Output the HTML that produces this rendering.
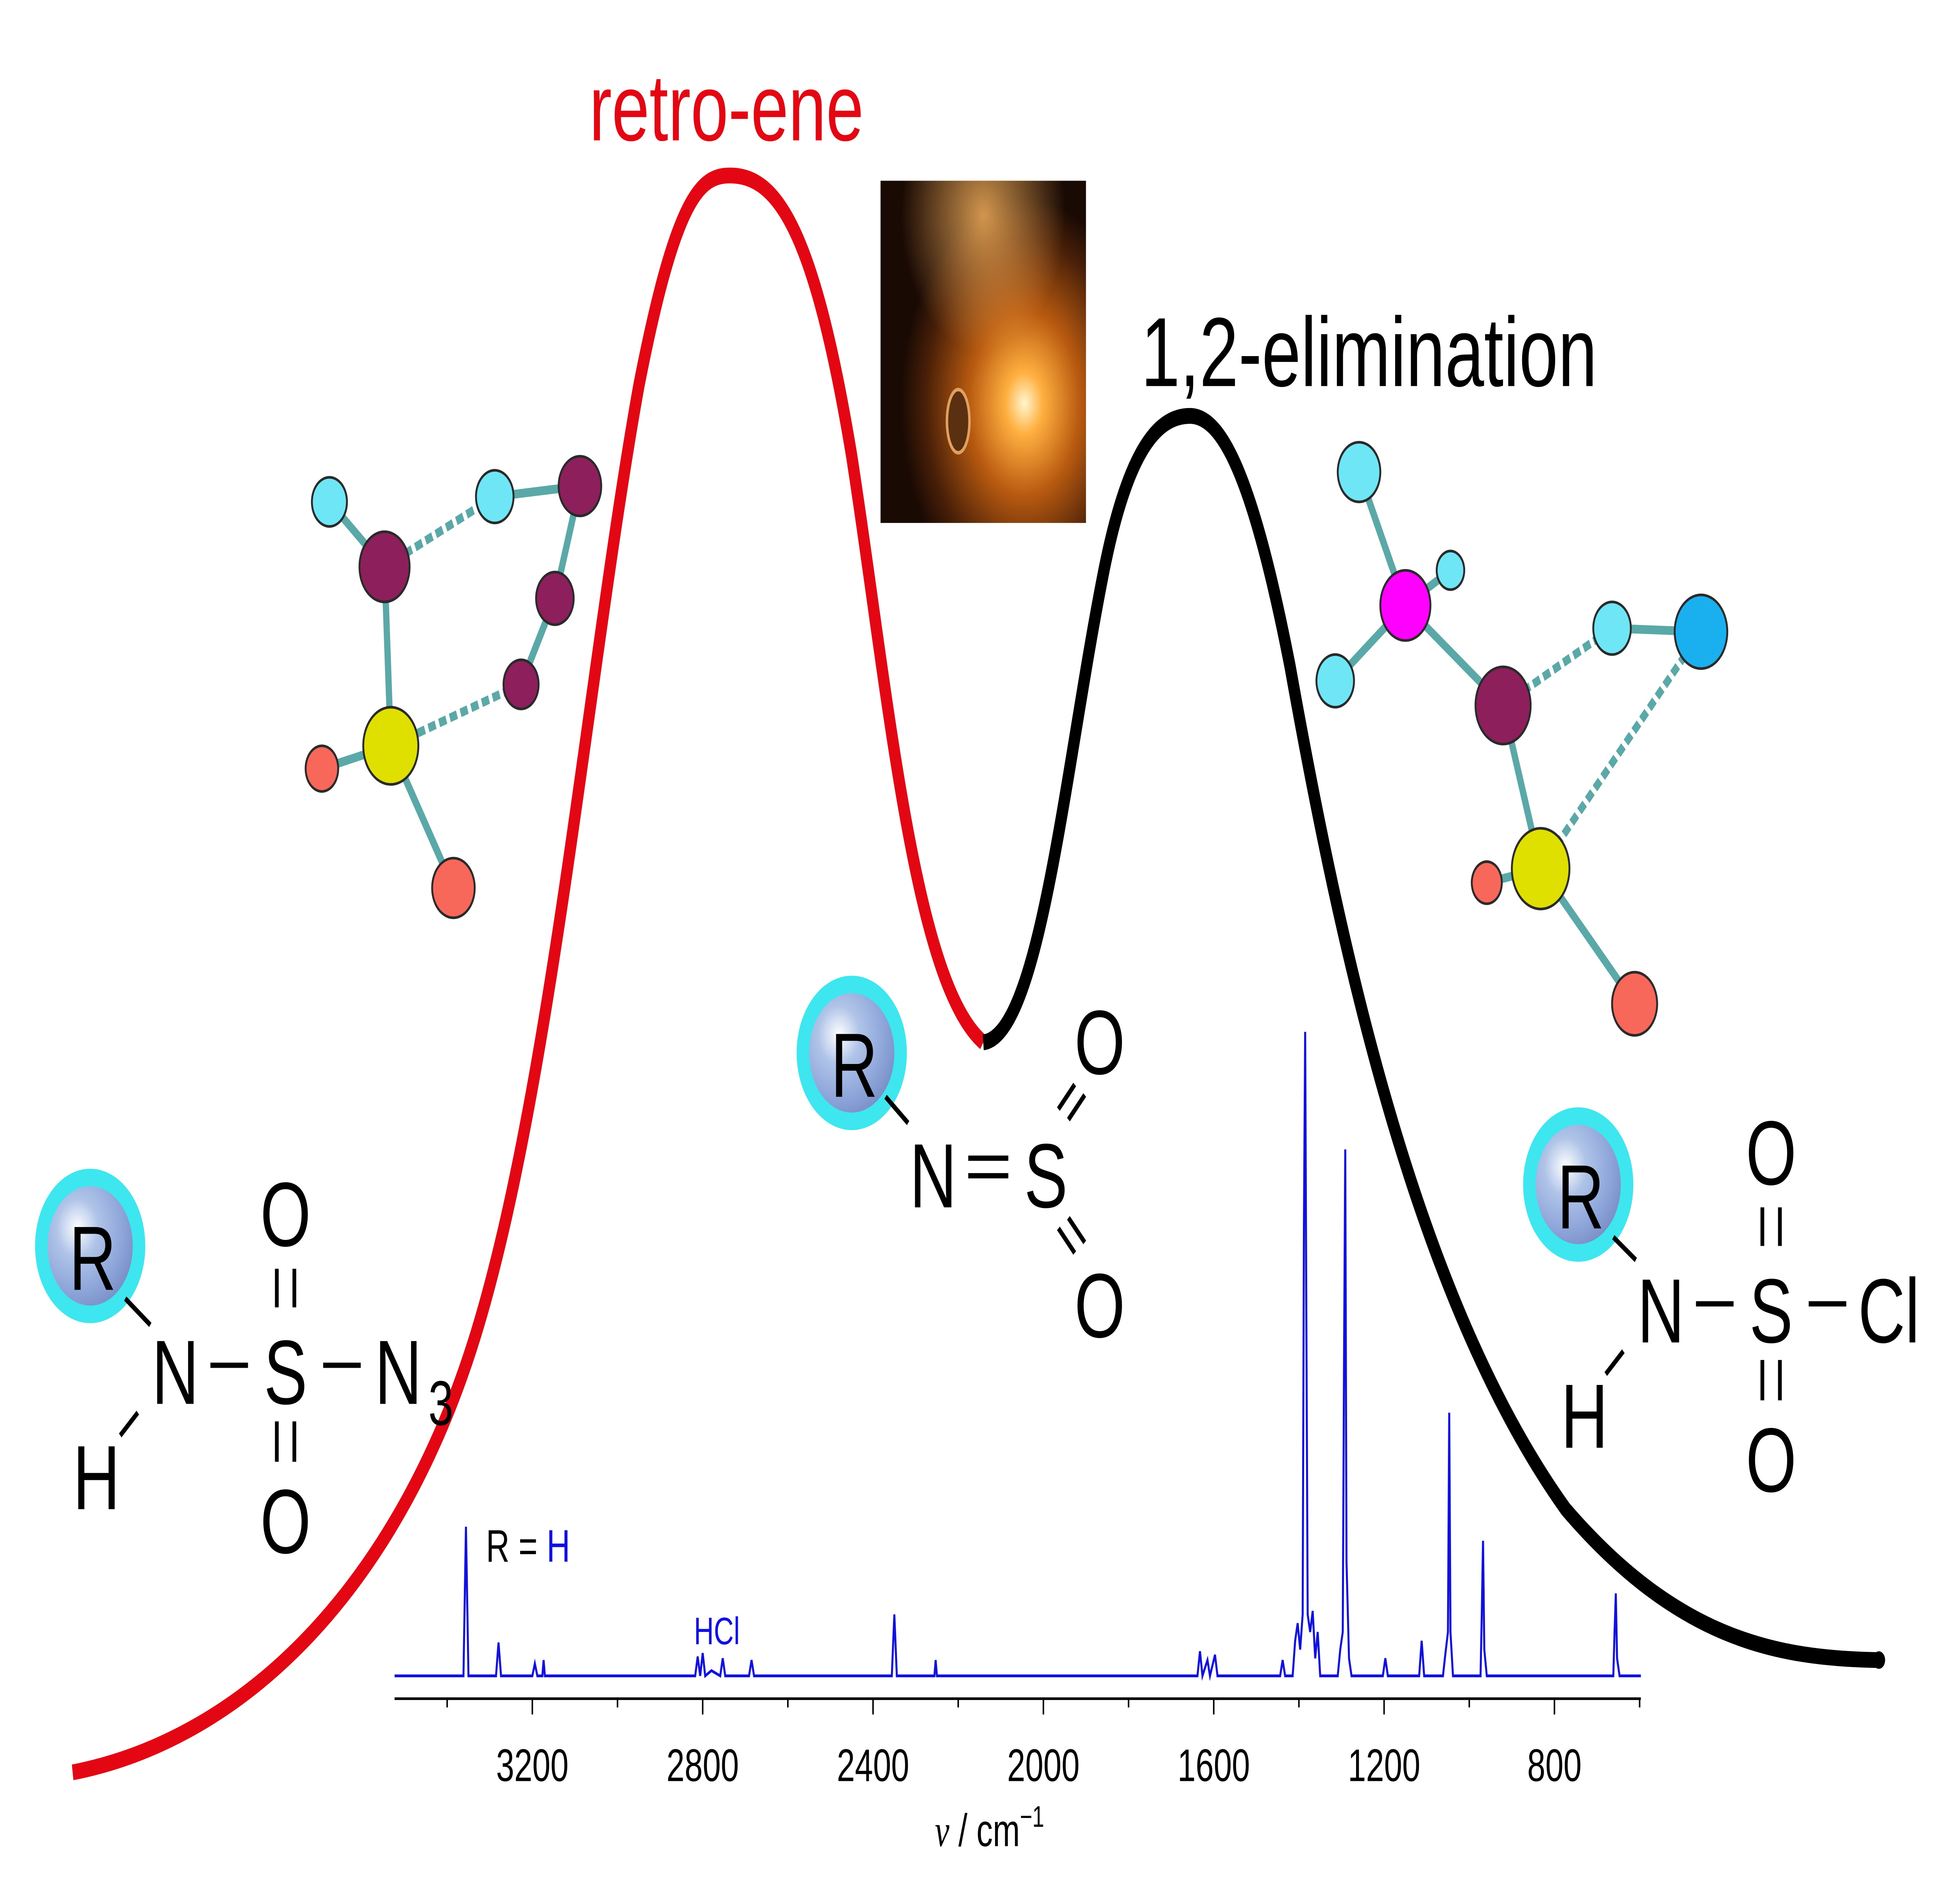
<!DOCTYPE html>
<html><head><meta charset="utf-8">
<style>
html,body{margin:0;padding:0;background:#fff;width:100%;height:100%;overflow:hidden;}
svg{display:block;width:100vw;height:100vh;}
text{font-family:"Liberation Sans",sans-serif;}
</style></head>
<body>
<svg viewBox="0 0 1560 1085" preserveAspectRatio="none" xmlns="http://www.w3.org/2000/svg">
<defs>
<radialGradient id="ball" cx="0.35" cy="0.35" r="0.7">
<stop offset="0" stop-color="#ffffff"/><stop offset="0.35" stop-color="#b0c4e8"/><stop offset="0.8" stop-color="#8aa2d8"/><stop offset="1" stop-color="#7a92c8"/>
</radialGradient>
<radialGradient id="glow" cx="0.7" cy="0.65" r="0.6">
<stop offset="0" stop-color="#fff6d0"/><stop offset="0.15" stop-color="#ffb040"/><stop offset="0.45" stop-color="#b85a10"/><stop offset="0.8" stop-color="#4a2008"/><stop offset="1" stop-color="#1a0a04"/>
</radialGradient>
<radialGradient id="glow2" cx="0.5" cy="0.1" r="0.4">
<stop offset="0" stop-color="#ffb860" stop-opacity="0.8"/><stop offset="1" stop-color="#ffb860" stop-opacity="0"/>
</radialGradient>
</defs>
<rect width="1560" height="1085" fill="#fff"/>

<path d="M58,1010 C200,990 320,900 380,760 C440,620 470,380 510,220 C540,110 560,100 583,100 C620,100 650,130 680,260 C710,400 730,560 785,594" fill="none" stroke="#e30613" stroke-width="9"/>
<path d="M785,594 C830,590 850,440 880,330 C900,255 925,237 950,237 C975,237 1000,270 1030,380 C1070,540 1130,740 1250,860 C1340,935 1420,945 1500,946" fill="none" stroke="#000" stroke-width="9"/>
<circle cx="1500" cy="946" r="5" fill="#000"/>

<text x="580" y="80" font-size="54" fill="#e30613" text-anchor="middle">retro-ene</text>
<text x="1093" y="220" font-size="56" fill="#000" text-anchor="middle">1,2-elimination</text>

<rect x="703" y="103" width="164" height="195" fill="url(#glow)"/>
<rect x="703" y="103" width="164" height="195" fill="url(#glow2)"/>
<ellipse cx="765" cy="240" rx="9" ry="18" fill="#5a3010" stroke="#e0a060" stroke-width="2"/>

<g stroke="#2a2a2a" stroke-width="1.5">
<line x1="263" y1="286" x2="307" y2="323" stroke="#5aa8a8" stroke-width="5"/>
<line x1="307" y1="323" x2="395" y2="283" stroke="#5aa8a8" stroke-width="5" stroke-dasharray="6,3"/>
<line x1="395" y1="283" x2="463" y2="277" stroke="#5aa8a8" stroke-width="5"/>
<line x1="463" y1="277" x2="443" y2="341" stroke="#5aa8a8" stroke-width="5"/>
<line x1="443" y1="341" x2="416" y2="390" stroke="#5aa8a8" stroke-width="5"/>
<line x1="416" y1="390" x2="312" y2="425" stroke="#5aa8a8" stroke-width="5" stroke-dasharray="6,3"/>
<line x1="307" y1="323" x2="312" y2="425" stroke="#5aa8a8" stroke-width="5"/>
<line x1="312" y1="425" x2="257" y2="438" stroke="#5aa8a8" stroke-width="5"/>
<line x1="312" y1="425" x2="362" y2="506" stroke="#5aa8a8" stroke-width="5"/>
<circle cx="263" cy="286" r="14" fill="#6ee6f6"/>
<circle cx="395" cy="283" r="15" fill="#6ee6f6"/>
<circle cx="463" cy="277" r="17" fill="#8c1f5c"/>
<circle cx="443" cy="341" r="15" fill="#8c1f5c"/>
<circle cx="416" cy="390" r="14" fill="#8c1f5c"/>
<circle cx="307" cy="323" r="20" fill="#8c1f5c"/>
<circle cx="312" cy="425" r="22" fill="#e0e000"/>
<circle cx="257" cy="438" r="13" fill="#f8685a"/>
<circle cx="362" cy="506" r="17" fill="#f8685a"/>
</g>

<g stroke="#2a2a2a" stroke-width="1.5">
<line x1="1085" y1="269" x2="1122" y2="345" stroke="#5aa8a8" stroke-width="5"/>
<line x1="1122" y1="345" x2="1158" y2="325" stroke="#5aa8a8" stroke-width="5"/>
<line x1="1122" y1="345" x2="1066" y2="388" stroke="#5aa8a8" stroke-width="5"/>
<line x1="1122" y1="345" x2="1200" y2="402" stroke="#5aa8a8" stroke-width="5"/>
<line x1="1200" y1="402" x2="1287" y2="358" stroke="#5aa8a8" stroke-width="5" stroke-dasharray="6,3"/>
<line x1="1287" y1="358" x2="1358" y2="360" stroke="#5aa8a8" stroke-width="5"/>
<line x1="1358" y1="360" x2="1230" y2="495" stroke="#5aa8a8" stroke-width="5" stroke-dasharray="6,3"/>
<line x1="1200" y1="402" x2="1230" y2="495" stroke="#5aa8a8" stroke-width="5"/>
<line x1="1230" y1="495" x2="1187" y2="503" stroke="#5aa8a8" stroke-width="5"/>
<line x1="1230" y1="495" x2="1305" y2="572" stroke="#5aa8a8" stroke-width="5"/>
<circle cx="1085" cy="269" r="17" fill="#6ee6f6"/>
<circle cx="1158" cy="325" r="11" fill="#6ee6f6"/>
<circle cx="1066" cy="388" r="15" fill="#6ee6f6"/>
<circle cx="1122" cy="345" r="20" fill="#ff00ff"/>
<circle cx="1200" cy="402" r="22" fill="#8c1f5c"/>
<circle cx="1287" cy="358" r="15" fill="#6ee6f6"/>
<circle cx="1358" cy="360" r="21" fill="#1ab0f0"/>
<circle cx="1230" cy="495" r="23" fill="#e0e000"/>
<circle cx="1187" cy="503" r="12" fill="#f8685a"/>
<circle cx="1305" cy="572" r="18" fill="#f8685a"/>
</g>

<g>
<circle cx="72" cy="710" r="44" fill="#3ee6f0"/><circle cx="72" cy="710" r="34" fill="url(#ball)"/>
<circle cx="680" cy="600" r="44" fill="#3ee6f0"/><circle cx="680" cy="600" r="34" fill="url(#ball)"/>
<circle cx="1260" cy="675" r="44" fill="#3ee6f0"/><circle cx="1260" cy="675" r="34" fill="url(#ball)"/>
</g>
<g font-size="52" fill="#000" text-anchor="middle">
<text x="74" y="735">R</text>
<line x1="100" y1="740" x2="120" y2="755" stroke="#000" stroke-width="3"/>
<text x="140" y="800">N</text>
<line x1="168" y1="778" x2="198" y2="778" stroke="#000" stroke-width="3"/>
<text x="228" y="800">S</text>
<line x1="258" y1="778" x2="288" y2="778" stroke="#000" stroke-width="3"/>
<text x="318" y="800">N</text><text x="352" y="812" font-size="36">3</text>
<text x="228" y="710">O</text>
<line x1="221" y1="723" x2="221" y2="745" stroke="#000" stroke-width="3"/><line x1="235" y1="723" x2="235" y2="745" stroke="#000" stroke-width="3"/>
<line x1="221" y1="810" x2="221" y2="833" stroke="#000" stroke-width="3"/><line x1="235" y1="810" x2="235" y2="833" stroke="#000" stroke-width="3"/>
<text x="228" y="885">O</text>
<line x1="110" y1="805" x2="96" y2="818" stroke="#000" stroke-width="3"/>
<text x="77" y="860">H</text>
<text x="682" y="625">R</text>
<line x1="707" y1="625" x2="725" y2="640" stroke="#000" stroke-width="3"/>
<text x="745" y="688">N</text>
<line x1="773" y1="660" x2="805" y2="660" stroke="#000" stroke-width="3"/><line x1="773" y1="670" x2="805" y2="670" stroke="#000" stroke-width="3"/>
<text x="835" y="688">S</text>
<text x="878" y="612">O</text>
<line x1="845" y1="632" x2="858" y2="618" stroke="#000" stroke-width="3"/><line x1="853" y1="638" x2="866" y2="624" stroke="#000" stroke-width="3"/>
<text x="878" y="762">O</text>
<line x1="845" y1="700" x2="858" y2="714" stroke="#000" stroke-width="3"/><line x1="853" y1="694" x2="866" y2="708" stroke="#000" stroke-width="3"/>
<text x="1262" y="700">R</text>
<line x1="1288" y1="705" x2="1306" y2="718" stroke="#000" stroke-width="3"/>
<text x="1326" y="765">N</text>
<line x1="1354" y1="743" x2="1384" y2="743" stroke="#000" stroke-width="3"/>
<text x="1414" y="765">S</text>
<line x1="1444" y1="743" x2="1474" y2="743" stroke="#000" stroke-width="3"/>
<text x="1508" y="765">Cl</text>
<text x="1414" y="675">O</text>
<line x1="1407" y1="688" x2="1407" y2="710" stroke="#000" stroke-width="3"/><line x1="1421" y1="688" x2="1421" y2="710" stroke="#000" stroke-width="3"/>
<line x1="1407" y1="775" x2="1407" y2="798" stroke="#000" stroke-width="3"/><line x1="1421" y1="775" x2="1421" y2="798" stroke="#000" stroke-width="3"/>
<text x="1414" y="850">O</text>
<line x1="1296" y1="770" x2="1282" y2="783" stroke="#000" stroke-width="3"/>
<text x="1265" y="825">H</text>
</g>

<path d="M315,955 L370,955 L372,870 L374,955 L396,955 L398,936 L400,955 L425,955 L427,948 L429,955 L433,955 L434,946 L435,955 L555,955 L557,944 L559,955 L561,942 L563,955 L568,952 L575,955 L577,945 L579,955 L598,955 L600,946 L602,955 L712,955 L714,920 L716,955 L746,955 L747,946 L748,955 L956,955 L958,941 L960,955 L964,946 L966,955 L970,943 L972,955 L1022,955 L1024,946 L1026,955 L1032,955 L1034,935 L1036,925 L1038,940 L1040,920 L1041,700 L1042,588 L1043,760 L1044,920 L1046,930 L1048,918 L1050,945 L1052,930 L1054,955 L1068,955 L1070,940 L1072,930 L1073,780 L1074,655 L1075,890 L1077,945 L1079,955 L1104,955 L1106,945 L1108,955 L1133,955 L1135,935 L1137,955 L1152,955 L1154,942 L1156,930 L1157,805 L1158,930 L1160,955 L1182,955 L1183,920 L1184,878 L1185,940 L1187,955 L1288,955 L1289,930 L1290,908 L1291,945 L1293,955 L1310,955" fill="none" stroke="#1010e0" stroke-width="1.6"/>
<line x1="315" y1="968" x2="1310" y2="968" stroke="#000" stroke-width="1.5"/>
<g stroke="#000" stroke-width="1.2">
<line x1="425" y1="968" x2="425" y2="977"/><line x1="561" y1="968" x2="561" y2="977"/><line x1="697" y1="968" x2="697" y2="977"/><line x1="833" y1="968" x2="833" y2="977"/><line x1="969" y1="968" x2="969" y2="977"/><line x1="1105" y1="968" x2="1105" y2="977"/><line x1="1241" y1="968" x2="1241" y2="977"/>
<line x1="357" y1="968" x2="357" y2="973"/><line x1="493" y1="968" x2="493" y2="973"/><line x1="629" y1="968" x2="629" y2="973"/><line x1="765" y1="968" x2="765" y2="973"/><line x1="901" y1="968" x2="901" y2="973"/><line x1="1037" y1="968" x2="1037" y2="973"/><line x1="1173" y1="968" x2="1173" y2="973"/><line x1="1309" y1="968" x2="1309" y2="973"/>
</g>
<g font-size="26" text-anchor="middle" fill="#000">
<text x="425" y="1015">3200</text><text x="561" y="1015">2800</text><text x="697" y="1015">2400</text><text x="833" y="1015">2000</text><text x="969" y="1015">1600</text><text x="1105" y="1015">1200</text><text x="1241" y="1015">800</text>
</g>
<text x="790" y="1052" font-size="26" text-anchor="middle"><tspan font-style="italic" font-family="Liberation Serif">ν</tspan> / cm<tspan font-size="17" dy="-11">−1</tspan></text>
<text x="388" y="890" font-size="26" fill="#000">R = <tspan fill="#1010e0">H</tspan></text>
<text x="554" y="937" font-size="22" fill="#1010e0">HCl</text>
</svg>
</body></html>
